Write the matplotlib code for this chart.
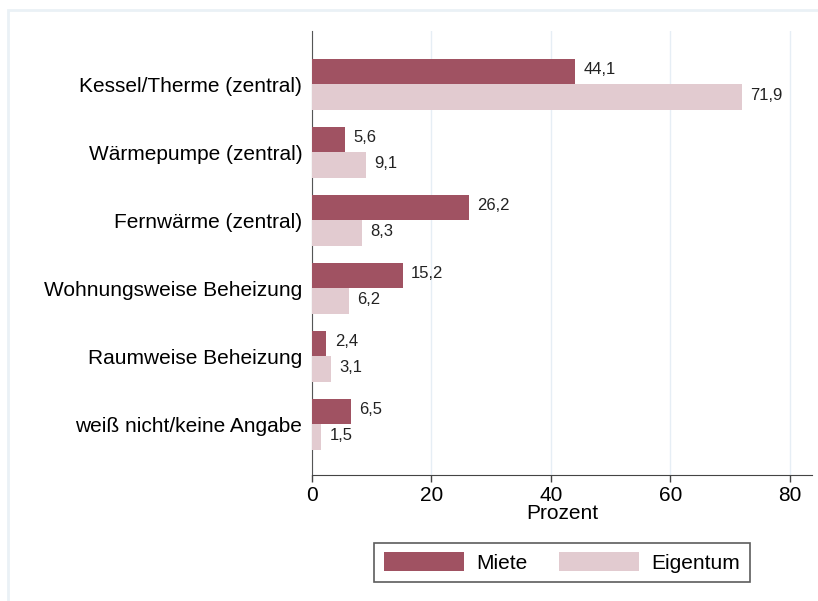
import matplotlib.pyplot as plt
import matplotlib.patches as mpatches
import numpy as np

plt.rcParams['font.family'] = ['Liberation Sans', 'DejaVu Sans']

# data
kategorien = ['Kessel/Therme (zentral)', 'Wärmepumpe (zentral)', 'Fernwärme (zentral)',
              'Wohnungsweise Beheizung', 'Raumweise Beheizung', 'weiß nicht/keine Angabe']
miete = [44.1, 5.6, 26.2, 15.2, 2.4, 6.5]
eigentum = [71.9, 9.1, 8.3, 6.2, 3.1, 1.5]
xticks = [0, 20, 40, 60, 80]

c_miete = '#a05262'
c_eigen = '#e2cbd0'

fig = plt.figure(figsize=(8.18, 6.01), dpi=100)
# light outer frame (only top and left edges fall inside the picture)
fig.patches.append(mpatches.Rectangle((8/818, -0.1), 1.2, 1.1 - 10/601, transform=fig.transFigure,
                                      fill=False, edgecolor='#eaf1f6', linewidth=2))
ax = fig.add_axes([312/818, 1 - 475/601, 500/818, 444/601])

y = np.arange(len(kategorien))
h = 0.375
b1 = ax.barh(y - h/2, miete, height=h, color=c_miete, label='Miete', zorder=3)
b2 = ax.barh(y + h/2, eigentum, height=h, color=c_eigen, label='Eigentum', zorder=3)

for bars, vals in [(b1, miete), (b2, eigentum)]:
    for bar, v in zip(bars, vals):
        ax.annotate(f'{v:.1f}'.replace('.', ','), (v, bar.get_y() + bar.get_height()/2),
                    xytext=(6, 1), textcoords='offset points', va='center', ha='left',
                    fontsize=12, color='#222222')

ax.set_ylim(5.75, -0.78)
ax.set_xlim(0, 83.7)
ax.set_yticks(y)
ax.set_yticklabels(kategorien, fontsize=15)
ax.tick_params(axis='y', length=0, pad=7)
ax.set_xticks(xticks)
ax.set_xticklabels([str(t) for t in xticks], fontsize=15)
ax.tick_params(axis='x', length=5, width=1, color='#444444', pad=3)
ax.set_xlabel('Prozent', fontsize=15, labelpad=-1)

ax.grid(axis='x', color='#e6eef5', linewidth=1.0, zorder=0)
ax.set_axisbelow(True)
for s in ['top', 'right']:
    ax.spines[s].set_visible(False)
ax.spines['left'].set_color('#555555')
ax.spines['bottom'].set_color('#444444')

leg = fig.legend(handles=[b1, b2], loc='center', bbox_to_anchor=(562/818, 1 - 562.5/601),
                 ncol=2, fontsize=15, frameon=True, fancybox=False, edgecolor='#333333',
                 handlelength=3.85, handleheight=1.0, columnspacing=1.5, handletextpad=0.6,
                 borderpad=0.45)
leg.get_frame().set_linewidth(1.2)

plt.savefig('out.png', dpi=100)
